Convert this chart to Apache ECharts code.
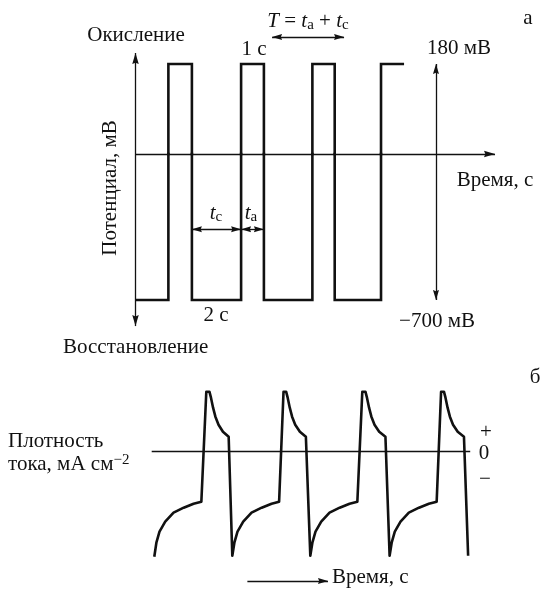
<!DOCTYPE html>
<html>
<head>
<meta charset="utf-8">
<script src="https://cdn.jsdelivr.net/npm/echarts@6/dist/echarts.min.js"></script>
<style>
  html, body { margin: 0; padding: 0; background: #fff; }
  #chart { width: 551px; height: 590px; }
</style>
</head>
<body>
<div id="chart"></div>
<script>
// ---- (а) pulse potential program: time, s / potential, mV ----
const pulseTime      = [0, 1.37, 1.37, 2.35, 2.35, 4.40, 4.40, 5.35, 5.35, 7.37, 7.37, 8.30, 8.30, 10.23, 10.23, 11.19];
const pulsePotential = [-700, -700, 180, 180, -700, -700, 180, 180, -700, -700, 180, 180, -700, -700, 180, 180];
const oxidationLevel = 180;    // mV
const reductionLevel = -700;   // mV
const amplitudeMarkerTime = 12.52;
const periodArrow = [5.69, 8.69];   // T = ta + tc
const periodArrowLevel = 234;

// ---- (б) current density response: time, s / j, arbitrary units ----
const currentTime = [
  0, 0.08, 0.2, 0.42, 0.74, 1.13, 1.51, 1.81, 2.0, 2.12, 2.18, 2.26, 2.35, 2.47, 2.64, 2.86, 3.0,
  3.08, 3.2, 3.42, 3.74, 4.13, 4.51, 4.8, 4.97, 5.07, 5.13, 5.21, 5.3, 5.42, 5.6, 5.83, 6.0,
  6.08, 6.2, 6.42, 6.74, 7.13, 7.51, 7.81, 8.0, 8.12, 8.18, 8.26, 8.35, 8.47, 8.65, 8.89, 9.05,
  9.13, 9.25, 9.47, 9.79, 10.18, 10.56, 10.86, 11.03, 11.14, 11.2, 11.28, 11.37, 11.49, 11.67, 11.91, 12.07
];
const currentDensity = [
  -10.5, -9.1, -8.0, -7.0, -6.1, -5.6, -5.2, -5.0, 6.0, 6.0, 5.4, 4.4, 3.5, 2.7, 2.0, 1.5, -10.4,
  -9.1, -8.0, -7.0, -6.1, -5.6, -5.2, -5.0, 6.0, 6.0, 5.4, 4.4, 3.5, 2.7, 2.0, 1.5, -10.4,
  -9.1, -8.0, -7.0, -6.1, -5.6, -5.2, -5.0, 6.0, 6.0, 5.4, 4.4, 3.5, 2.7, 2.0, 1.5, -10.4,
  -9.1, -8.0, -7.0, -6.1, -5.6, -5.2, -5.0, 6.0, 6.0, 5.4, 4.4, 3.5, 2.7, 2.0, 1.5, -10.4
];
const timeArrow = [3.58, 6.68];
const timeArrowLevel = -12.93;

const FONT = '"Liberation Serif", "Times New Roman", serif';
const INK = '#111';
const FS = 21;

const pulseData = pulseTime.map((t, i) => [t, pulsePotential[i]]);
const currentData = currentTime.map((t, i) => [t, currentDensity[i]]);

// tc = cathodic (low) interval, ta = anodic (high) interval of the 2nd pulse
const tcStart = pulseTime[3], tcEnd = pulseTime[5], taEnd = pulseTime[7];
const dimLevel = -361;

// arrowhead whose tip sits on the line end (upper half of the box is empty)
const HEAD = 'path://M5,10L8.5,20L5,18.8L1.5,20Z M5,0';

const arrowStyle = { color: INK, width: 1.3, type: 'solid' };
function seg(a, b, sym, size) {
  const s = size || [6, 20];
  return [
    { coord: a, symbol: sym[0] === 'arrow' ? HEAD : 'none', symbolSize: s },
    { coord: b, symbol: sym[1] === 'arrow' ? HEAD : 'none', symbolSize: s }
  ];
}
const markBase = {
  silent: true,
  animation: false,
  symbolSize: [6, 20],
  label: { show: false },
  emphasis: { disabled: true },
  lineStyle: arrowStyle
};

const hiddenAxis = { show: false, splitLine: { show: false } };

const option = {
  animation: false,
  backgroundColor: '#fff',
  grid: [
    // positive half of the potential axis
    { left: 135.5, top: 10, width: 360, height: 144 },
    // negative half of the potential axis
    { left: 135.5, top: 154, width: 360, height: 180 },
    // current density panel
    { left: 151.7, top: 381.7, width: 318.5, height: 205 }
  ],
  xAxis: [
    Object.assign({ type: 'value', gridIndex: 0, min: 0, max: 15 }, hiddenAxis),
    Object.assign({ type: 'value', gridIndex: 1, min: 0, max: 15 }, hiddenAxis),
    Object.assign({ type: 'value', gridIndex: 2, min: -0.1, max: 12.15 }, hiddenAxis)
  ],
  yAxis: [
    Object.assign({ type: 'value', gridIndex: 0, min: 0, max: 288 }, hiddenAxis),
    Object.assign({ type: 'value', gridIndex: 1, min: -863, max: 0 }, hiddenAxis),
    Object.assign({ type: 'value', gridIndex: 2, min: -13.5, max: 7 }, hiddenAxis)
  ],
  series: [
    {
      type: 'line', xAxisIndex: 0, yAxisIndex: 0, data: pulseData, clip: true,
      symbol: 'none', silent: true,
      lineStyle: { color: INK, width: 2.6, join: 'miter' },
      markLine: Object.assign({}, markBase, {
        data: [
          // potential axis (upper part)
          seg([0, 0], [0, 202], ['none', 'arrow'], [6.5, 22]),
          // time axis
          seg([0, 0], [14.98, 0], ['none', 'arrow'], [6.5, 22]),
          // amplitude marker (upper part)
          seg([amplitudeMarkerTime, 0], [amplitudeMarkerTime, oxidationLevel], ['none', 'arrow']),
          // period arrow
          seg([periodArrow[0], periodArrowLevel], [periodArrow[1], periodArrowLevel], ['arrow', 'arrow'])
        ]
      })
    },
    {
      type: 'line', xAxisIndex: 1, yAxisIndex: 1, data: pulseData, clip: true,
      symbol: 'none', silent: true,
      lineStyle: { color: INK, width: 2.6, join: 'miter' },
      markLine: Object.assign({}, markBase, {
        data: [
          seg([0, -825], [0, 0], ['arrow', 'none'], [6.5, 22]),
          seg([amplitudeMarkerTime, reductionLevel], [amplitudeMarkerTime, 0], ['arrow', 'none']),
          seg([tcStart, dimLevel], [tcEnd, dimLevel], ['arrow', 'arrow']),
          seg([tcEnd, dimLevel], [taEnd, dimLevel], ['arrow', 'arrow'])
        ]
      })
    },
    {
      type: 'line', xAxisIndex: 2, yAxisIndex: 2, data: currentData, clip: false,
      symbol: 'none', silent: true,
      lineStyle: { color: INK, width: 2.6, join: 'round' },
      markLine: Object.assign({}, markBase, {
        data: [
          seg([-0.1, 0], [12.15, 0], ['none', 'none']),
          seg([timeArrow[0], timeArrowLevel], [timeArrow[1], timeArrowLevel], ['none', 'arrow'])
        ]
      })
    }
  ],
  graphic: [
    txt('а', 528, 18),
    txt('Окисление', 136, 35),
    {
      type: 'text', x: 308, y: 21, silent: true,
      style: {
        text: '{i|T}{n| = }{i|t}{s|a}{n| + }{i|t}{s|c}',
        align: 'center', verticalAlign: 'middle', fill: INK,
        rich: {
          i: { fontFamily: FONT, fontSize: FS, fontStyle: 'italic', lineHeight: 23, fill: INK },
          n: { fontFamily: FONT, fontSize: FS, lineHeight: 23, fill: INK },
          s: { fontFamily: FONT, fontSize: 15, lineHeight: 15, verticalAlign: 'bottom', fill: INK }
        }
      }
    },
    txt('1 с', 254, 49),
    txt('180 мВ', 459, 48),
    txt('Время, с', 495, 180),
    {
      type: 'text', x: 110, y: 188, rotation: Math.PI / 2, silent: true,
      style: { text: 'Потенциал, мВ', fontFamily: FONT, fontSize: FS, fill: INK, align: 'center', verticalAlign: 'middle' }
    },
    sub('t', 'c', 216, 213),
    sub('t', 'a', 251, 213),
    txt('2 с', 216, 315),
    txt('−700 мВ', 437, 321),
    txt('Восстановление', 63, 347, 'left'),
    txt('б', 535, 377),
    txt('Плотность', 8, 441, 'left'),
    {
      type: 'text', x: 8, y: 464, silent: true,
      style: {
        text: '{n|тока, мА см}{p|−2}',
        align: 'left', verticalAlign: 'middle', fill: INK,
        rich: {
          n: { fontFamily: FONT, fontSize: FS, lineHeight: 23, fill: INK },
          p: { fontFamily: FONT, fontSize: 15, lineHeight: 12, verticalAlign: 'top', fill: INK }
        }
      }
    },
    txt('+', 486, 432),
    txt('0', 484, 453),
    txt('−', 485, 479),
    txt('Время, с', 332, 577, 'left')
  ]
};

function txt(text, x, y, align) {
  return {
    type: 'text', x: x, y: y, silent: true,
    style: { text: text, fontFamily: FONT, fontSize: FS, fill: INK, align: align || 'center', verticalAlign: 'middle' }
  };
}
function sub(base, idx, x, y) {
  return {
    type: 'text', x: x, y: y, silent: true,
    style: {
      text: '{i|' + base + '}{s|' + idx + '}',
      align: 'center', verticalAlign: 'middle', fill: INK,
      rich: {
        i: { fontFamily: FONT, fontSize: FS, fontStyle: 'italic', lineHeight: 23, fill: INK },
        s: { fontFamily: FONT, fontSize: 15, lineHeight: 15, verticalAlign: 'bottom', fill: INK }
      }
    }
  };
}

const chart = echarts.init(document.getElementById('chart'), null, { renderer: 'canvas' });
chart.setOption(option);
</script>
</body>
</html>
